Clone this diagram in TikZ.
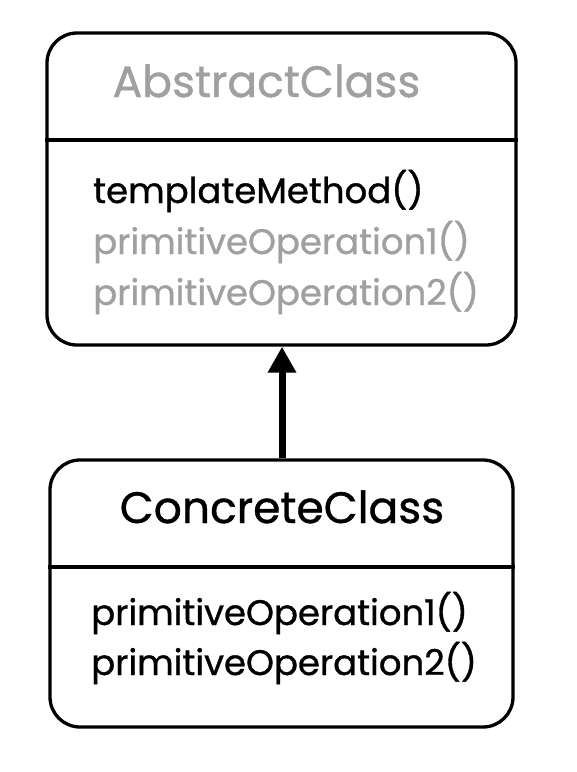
\documentclass[tikz,border=0pt]{standalone}
\usepackage{fontspec}
\setmainfont{Poppins}[FakeBold=0.9]
\usetikzlibrary{arrows.meta}
\definecolor{mutedgray}{HTML}{A0A0A0}
\tikzset{
  classbox/.style={draw=black, line width=3.3pt, rounded corners=30pt, fill=white, inner sep=0pt},
  divider/.style={draw=black, line width=3.3pt},
  titletext/.style={font=\fontsize{44}{52}\selectfont, anchor=base, inner sep=0pt},
  methodtext/.style={font=\fontsize{35.5}{42}\selectfont, anchor=base west, inner sep=0pt},
  inherit/.style={line width=7pt, -{Triangle[length=26pt,width=27pt]}}
}
\begin{document}
\begin{tikzpicture}[x=1pt,y=-1pt]
\useasboundingbox (0,0) rectangle (577,772);
\node[classbox, minimum width=469pt, minimum height=312pt] (abs) at (281.5,189) {};
\node[classbox, minimum width=463pt, minimum height=267pt] (conc) at (281.5,593.5) {};
\draw[divider] (abs.west |- 0,140) -- (abs.east |- 0,140);
\draw[divider] (conc.west |- 0,567) -- (conc.east |- 0,567);
\node[titletext, text=mutedgray] (abstitle) at (266.5,97) {AbstractClass};
\node[methodtext] (tm) at (93,203) {templateMethod()};
\node[methodtext, text=mutedgray] (ap1) at (93,254) {primitiveOperation1()};
\node[methodtext, text=mutedgray] (ap2) at (93,305) {primitiveOperation2()};
\node[titletext] (conctitle) at (282,523) {ConcreteClass};
\node[methodtext] (cp1) at (91,625) {primitiveOperation1()};
\node[methodtext] (cp2) at (91,675) {primitiveOperation2()};
\draw[inherit] (conc.north -| 282,0) -- (abs.south -| 282,0);
\end{tikzpicture}
\end{document}
